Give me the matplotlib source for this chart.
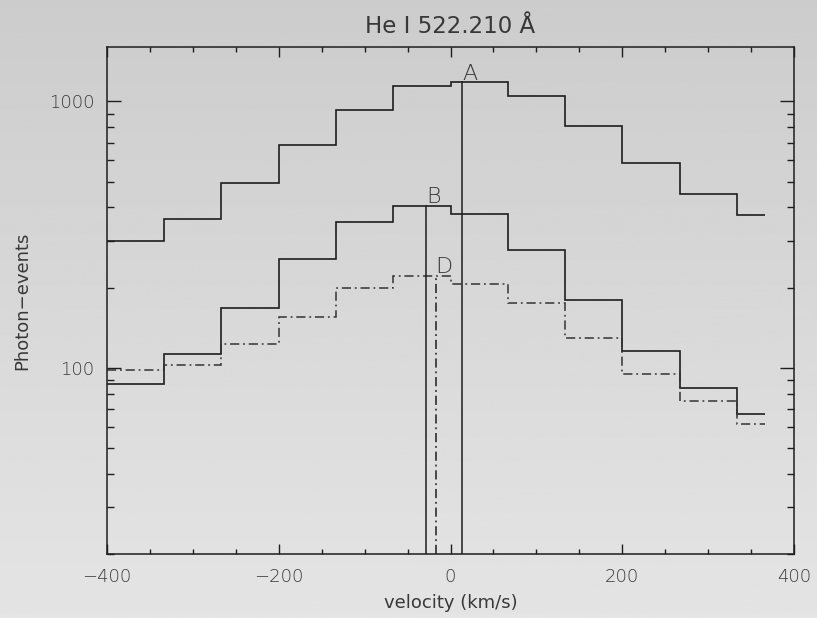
import numpy as np
import matplotlib
matplotlib.use("Agg")
import matplotlib.pyplot as plt
from matplotlib.ticker import LogLocator, NullFormatter, FixedLocator, MultipleLocator

plt.rcParams['font.family'] = ['DejaVu Sans']
plt.rcParams['font.weight'] = 'light'

# bin edges (km/s) of the histogram-style profiles
bin_edges = [-400, -333.3, -266.7, -200, -133.3, -66.7, 0, 66.7, 133.3, 200, 266.7, 333.3, 366.7]

# photon-events per bin
counts_a = [299, 363, 494, 686, 930, 1144, 1178, 1044, 808, 586, 448, 376]
counts_b = [87, 113, 168, 255, 353, 405, 377, 277, 180, 116, 84, 67]
counts_d = [98.5, 102, 123, 155, 200, 222, 207, 175, 129, 95, 75, 61.5]

# marked line centroids (km/s)
marker_labels = ['A', 'B', 'D']
marker_vel = [13.4, -28.2, -17.2]

ink = '#1e1e1e'
txt = '#383838'

fig = plt.figure(figsize=(8.17, 6.18), dpi=100)

# grey gradient background
bg = fig.add_axes([0, 0, 1, 1], zorder=-1)
grad = np.linspace(0.80, 0.895, 256).reshape(-1, 1)
bg.imshow(grad, cmap='gray', vmin=0, vmax=1, aspect='auto', extent=[0, 1, 1, 0])
bg.set_axis_off()

ax = fig.add_axes([107 / 817, 1 - 554 / 618, 687 / 817, 507 / 618])
ax.set_facecolor('none')

dashdot = (0, (6, 2.5, 1.2, 2.5))
ax.stairs(counts_a, bin_edges, color=ink, lw=1.2, baseline=None)
ax.stairs(counts_b, bin_edges, color=ink, lw=1.2, baseline=None)
ax.stairs(counts_d, bin_edges, color='#333333', lw=1.1, baseline=None, linestyle=dashdot)

ymin, ymax = 20, 1600
series = [counts_a, counts_b, counts_d]
styles = ['-', '-', dashdot]
for lab, v, cnt, ls in zip(marker_labels, marker_vel, series, styles):
    i = np.searchsorted(bin_edges, v) - 1
    top = cnt[i]
    ax.plot([v, v], [ymin, top], color=ink, lw=1.1, linestyle=ls)
    ax.annotate(lab, (v, top), xytext=(0, -1), textcoords='offset points',
                ha='left', va='bottom', fontsize=16, color=txt)

ax.set_yscale('log')
ax.set_xlim(-400, 400)
ax.set_ylim(ymin, ymax)

ax.xaxis.set_major_locator(MultipleLocator(200))
ax.xaxis.set_minor_locator(MultipleLocator(50))
ax.yaxis.set_major_locator(FixedLocator([100, 1000]))
ax.yaxis.set_major_formatter(matplotlib.ticker.FuncFormatter(lambda y, p: f"{int(y)}"))
ax.yaxis.set_minor_locator(LogLocator(base=10, subs=np.arange(2, 10)))
ax.yaxis.set_minor_formatter(NullFormatter())

ax.tick_params(axis='both', which='both', direction='in', top=True, right=True,
               color=ink, labelcolor=txt, labelsize=13)
ax.tick_params(axis='x', which='major', length=7.5, width=1, pad=10)
ax.tick_params(axis='x', which='minor', length=3.8, width=1)
ax.tick_params(axis='y', which='major', length=10, width=1, pad=9)
ax.tick_params(axis='y', which='minor', length=5, width=1)

for s in ax.spines.values():
    s.set_color(ink)
    s.set_linewidth(1.1)

ax.set_title('He I 522.210 Å', fontsize=16.5, color=txt, pad=10)
ax.set_xlabel('velocity (km/s)', fontsize=13, color=txt, labelpad=6)
ax.set_ylabel('Photon\u2212events', fontsize=13, color=txt, labelpad=13)

fig.savefig('out.png', dpi=100)
